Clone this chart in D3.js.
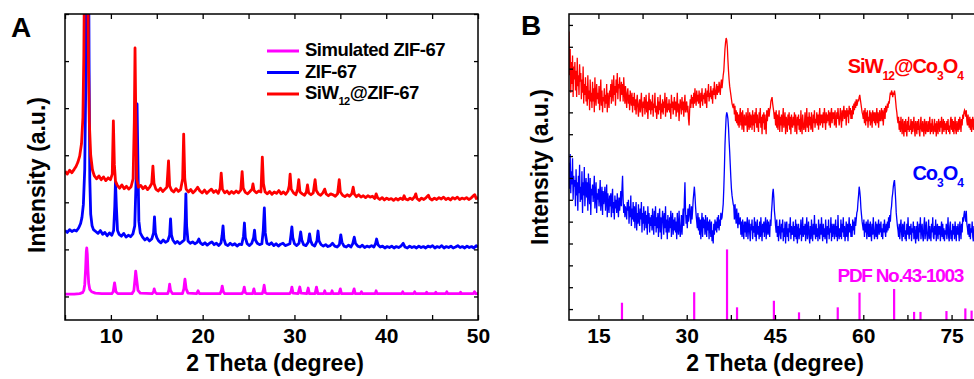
<!DOCTYPE html>
<html>
<head>
<meta charset="utf-8">
<script src="https://cdn.jsdelivr.net/npm/d3@7"></script>
<style>
  html, body { margin: 0; padding: 0; background: #fff; }
  svg { display: block; }
</style>
</head>
<body>
<svg id="fig" width="974" height="379"></svg>
<script>
// ---------- Panel A: ZIF-67 XRD patterns, [2θ, intensity (a.u.)] ----------
const simZIF = [
  [5,55],[6,55],[6.6,56],[6.9,58],[7.05,63],[7.15,75],[7.25,110],[7.32,145],[7.37,153],[7.43,140],[7.5,105],[7.58,78],[7.7,65],[7.9,60],[8.3,57],[9,56],
  [10.1,56],[10.25,60],[10.4,79],[10.55,60],[10.75,56],[12.3,56],[12.5,62],[12.62,85],[12.7,104],[12.8,88],[12.95,63],[13.2,57],
  [14.5,56],[14.65,60],[14.72,66],[14.82,59],[15,56],[16.2,56],[16.32,64],[16.4,76],[16.5,63],[16.7,56],
  [17.8,56],[17.95,66],[18.07,87],[18.2,66],[18.4,57],[19.35,56],[19.5,62],[19.65,56],
  [21.9,56],[22.05,63],[22.13,72],[22.25,60],[22.4,56],[24.3,56],[24.45,62],[24.53,70],[24.65,58],[24.8,56],
  [25.45,56],[25.58,66],[25.7,56],[26.5,56],[26.62,64],[26.7,74],[26.82,58],[27,56],
  [29.5,56],[29.65,62],[29.72,70],[29.85,57],[30.4,56],[30.58,70],[30.72,57],[31.35,56],[31.5,68],[31.62,56],
  [32.25,56],[32.4,70],[32.55,56],[33.2,56],[33.3,62],[33.4,56],[34,56],[34.1,62],[34.2,56],
  [34.85,56],[35,66],[35.12,56],[36.35,56],[36.5,66],[36.62,56],[37.2,56],[37.3,60],[37.4,56],
  [38.8,56],[38.9,62],[39,56],[41.7,56],[41.8,60],[41.9,56],[43,56],[43.1,60],[43.2,56],
  [44.3,56],[44.4,59],[44.5,56],[45.3,56],[45.4,59],[45.5,56],[46.5,56],[46.6,60],[46.7,56],
  [48,56],[48.1,59],[48.2,56],[49.5,56],[49.62,60],[49.75,56],[50,56]
];

const zif67 = [
  [5,190],[5.25,186],[5.5,192],[5.75,188],[6,191],[6.25,189],[6.5,196],[6.7,205],[6.85,218],[7.0,245],[7.15,320],[7.3,560],[7.42,900],[7.55,900],[7.62,560],[7.7,300],[7.8,225],[7.95,200],
  [8.1,192],[8.35,188],[8.6,184],[8.85,190],[9.1,182],[9.35,186],[9.6,179],[9.85,185],[10.1,180],[10.3,190],[10.42,240],[10.5,293],[10.6,240],[10.72,190],[10.9,182],
  [11.15,178],[11.4,184],[11.65,176],[11.9,180],[12.15,177],[12.4,183],[12.6,200],[12.75,300],[12.85,459],[12.95,330],[13.05,210],[13.2,185],[13.45,176],[13.7,170],[13.95,174],
  [14.2,168],[14.45,172],[14.65,185],[14.75,219],[14.85,185],[15.0,175],[15.2,168],[15.45,164],[15.7,170],[15.95,165],[16.2,168],[16.4,180],[16.5,215],[16.6,180],[16.75,170],
  [17,163],[17.25,167],[17.5,162],[17.75,166],[18.0,170],[18.1,215],[18.17,268],[18.25,200],[18.4,168],[18.65,163],[18.9,166],[19.15,162],[19.4,165],[19.58,172],[19.75,164],
  [20,160],[20.25,164],[20.5,159],[20.75,163],[21,166],[21.25,160],[21.5,163],[21.75,158],[22.0,164],[22.12,180],[22.22,200],[22.32,172],[22.5,161],[22.75,158],
  [23,163],[23.25,159],[23.5,162],[23.75,157],[24,161],[24.25,160],[24.45,178],[24.55,206],[24.65,175],[24.85,162],[25.1,158],[25.35,163],[25.55,175],[25.65,191],[25.75,170],[25.95,163],
  [26.2,160],[26.45,162],[26.6,190],[26.72,238],[26.82,185],[27,163],[27.25,160],[27.5,164],[27.75,158],[28,162],[28.25,157],[28.5,161],[28.75,163],[29,158],[29.25,160],[29.5,162],
  [29.62,180],[29.72,198],[29.82,175],[30,162],[30.25,158],[30.5,163],[30.68,187],[30.8,170],[31,160],[31.25,158],[31.5,165],[31.65,183],[31.77,168],[31.95,160],
  [32.2,157],[32.45,168],[32.57,189],[32.68,168],[32.9,160],[33.15,157],[33.4,160],[33.65,156],[33.9,158],[34.15,163],[34.4,157],[34.65,155],[34.9,160],[35.05,181],[35.18,165],
  [35.4,157],[35.65,155],[35.9,159],[36.15,155],[36.35,162],[36.52,176],[36.65,163],[36.9,157],[37.15,155],[37.4,159],[37.65,154],[37.9,157],[38.15,155],[38.4,158],[38.65,155],
  [38.85,163],[38.95,172],[39.1,160],[39.35,155],[39.6,157],[39.85,153],[40.1,156],[40.35,154],[40.6,157],[40.85,153],[41.1,156],[41.35,154],[41.6,157],[41.85,163],[42.05,155],
  [42.3,153],[42.55,157],[42.8,154],[43.05,156],[43.3,153],[43.55,157],[43.8,154],[44.05,156],[44.3,153],[44.55,157],[44.8,155],[45.05,158],[45.3,153],[45.55,156],[45.8,154],
  [46.05,158],[46.3,153],[46.55,156],[46.8,154],[47.05,157],[47.3,153],[47.55,155],[47.8,158],[48.05,154],[48.3,156],[48.55,153],[48.8,157],[49.05,154],[49.3,156],[49.55,153],[49.8,158],[50,155]
];

const siw12ZIF = [
  [5,316],[5.25,310],[5.5,318],[5.75,313],[6,320],[6.2,326],[6.4,335],[6.6,348],[6.8,375],[6.95,430],[7.05,560],[7.15,800],[7.3,900],[7.45,800],[7.55,560],[7.65,420],[7.8,350],[8.0,318],
  [8.2,306],[8.45,300],[8.7,306],[8.95,298],[9.2,304],[9.45,296],[9.7,302],[9.95,298],[10.15,310],[10.27,423],[10.38,330],[10.5,295],[10.7,286],[10.95,280],
  [11.2,287],[11.45,279],[11.7,284],[11.95,278],[12.2,283],[12.42,300],[12.55,420],[12.63,578],[12.72,420],[12.82,300],[13,282],[13.25,286],[13.5,279],[13.75,284],
  [14,277],[14.25,283],[14.45,290],[14.58,327],[14.7,290],[14.9,278],[15.15,274],[15.4,280],[15.65,273],[15.9,278],[16.1,282],[16.28,338],[16.4,285],[16.6,276],[16.85,272],
  [17.1,279],[17.35,273],[17.6,277],[17.82,300],[17.93,395],[18.05,300],[18.2,278],[18.45,272],[18.7,277],[18.95,270],[19.2,275],[19.45,282],[19.7,274],[19.95,270],
  [20.2,276],[20.45,269],[20.7,274],[20.95,278],[21.2,271],[21.45,275],[21.7,269],[21.9,280],[22.02,312],[22.15,278],[22.4,270],[22.65,274],[22.9,268],[23.15,273],
  [23.4,269],[23.65,274],[23.9,270],[24.15,276],[24.3,315],[24.42,280],[24.65,271],[24.9,268],[25.15,273],[25.38,278],[25.48,289],[25.6,275],[25.85,270],[26.1,274],
  [26.35,272],[26.5,346],[26.62,290],[26.8,272],[27.05,268],[27.3,273],[27.55,267],[27.8,272],[28.05,269],[28.3,275],[28.55,268],[28.8,272],[29.05,267],[29.3,274],
  [29.43,285],[29.53,310],[29.65,278],[29.9,270],[30.15,266],[30.35,278],[30.47,298],[30.6,272],[30.85,268],[31.1,265],[31.3,272],[31.42,287],[31.55,270],[31.8,266],
  [32.05,270],[32.25,298],[32.38,275],[32.6,268],[32.85,265],[33.1,270],[33.3,278],[33.45,268],[33.7,264],[33.95,268],[34.2,266],[34.45,263],[34.7,268],[34.88,298],[35.0,272],
  [35.25,265],[35.5,262],[35.75,266],[36.0,263],[36.25,268],[36.4,282],[36.52,268],[36.75,262],[37,266],[37.25,261],[37.5,264],[37.75,260],[38,264],[38.25,261],[38.5,263],
  [38.75,258],[38.9,268],[39.05,260],[39.3,256],[39.55,260],[39.8,255],[40.05,259],[40.3,256],[40.55,258],[40.8,254],[41.05,258],[41.3,255],[41.55,259],[41.8,256],[41.95,264],
  [42.1,257],[42.35,255],[42.6,259],[42.85,256],[43.1,262],[43.22,268],[43.35,258],[43.6,254],[43.85,259],[44.1,256],[44.35,260],[44.6,265],[44.75,258],[45,255],[45.25,259],
  [45.5,256],[45.75,260],[46,257],[46.25,261],[46.5,256],[46.75,259],[47,255],[47.25,260],[47.5,257],[47.75,261],[48,256],[48.25,259],[48.5,257],[48.75,260],[49,256],
  [49.25,259],[49.5,264],[49.65,266],[49.8,258],[50,260]
];

const legendA = [
  { parts: [["Simulated ZIF-67", false]], color: "#ff00ff" },
  { parts: [["ZIF-67", false]], color: "#0000ff" },
  { parts: [["SiW", false], ["12", true], ["@ZIF-67", false]], color: "#ff0000" }
];

// ---------- Panel B: calcined products ----------
// One row per degree, starting at 10°, readings every 0.1°; the last row is the 80° point.
const bFirstDeg = 10, bStep = 0.1;

const co3o4Rows = [
  [72,60,76,58,68,62,74,55,66,61],
  [64,52,69,57,63,50,66,58,71,54],
  [61,55,68,49,63,57,70,52,60,65],
  [56,63,50,67,58,53,65,48,60,57],
  [62,54,59,66,51,57,63,49,58,55],
  [60,52,57,64,50,56,61,48,59,53],
  [56,61,50,55,62,47,58,53,49,57],
  [52,58,47,55,60,49,54,46,57,51],
  [55,49,58,52,47,56,50,54,59,52],
  [60,66,55,49,53,47,52,50,46,54],
  [50,55,44,52,47,57,43,51,46,54],
  [45,52,42,50,54,41,49,44,53,46],
  [43,51,46,54,40,49,44,52,41,48],
  [50,42,48,39,52,44,49,40,47,43],
  [48,41,51,44,39,50,43,52,40,47],
  [42,49,38,46,51,40,47,37,45,50],
  [46,39,49,42,52,40,46,37,48,42],
  [40,47,42,50,38,45,49,39,46,41],
  [47,40,45,37,49,42,39,50,43,38],
  [42,48,39,46,51,43,55,63,50,44],
  [48,42,51,45,50,53,47,44,52,46],
  [50,55,58,61,57,52,48,45,42,49],
  [41,47,39,46,37,44,49,38,47,42],
  [46,39,48,42,38,47,41,45,37,46],
  [43,38,45,36,41,35,44,39,46,41],
  [45,40,47,42,48,41,46,43,49,46],
  [47,50,53,60,69,80,87,93,95,94],
  [92,88,82,77,71,65,60,57,55,53],
  [52,46,53,48,44,51,46,42,49,44],
  [44,47,39,45,38,46,41,37,45,40],
  [45,38,43,47,37,42,46,40,36,44],
  [41,46,37,43,40,47,38,45,36,42],
  [46,39,43,37,45,38,47,41,36,44],
  [40,45,38,43,47,37,42,46,39,45],
  [41,38,46,43,49,53,58,60,56,50],
  [47,43,40,46,38,43,36,42,46,39],
  [37,44,40,46,36,42,38,45,35,43],
  [45,38,42,36,44,40,47,37,43,39],
  [40,45,36,43,38,46,37,44,35,41],
  [44,37,42,39,46,36,41,47,38,43],
  [39,44,36,42,47,37,41,45,38,35],
  [43,37,46,40,36,44,39,48,40,37],
  [44,38,42,36,46,40,37,44,39,47],
  [40,36,44,38,42,37,46,40,35,43],
  [39,46,37,42,40,47,36,44,38,42],
  [44,37,41,46,38,43,36,48,40,37],
  [42,38,46,37,44,40,47,38,43,36],
  [40,45,38,44,36,42,47,40,44,38],
  [43,38,46,41,45,39,47,43,46,49],
  [50,54,57,61,59,56,51,48,45,43],
  [41,46,38,44,40,45,37,42,46,38],
  [44,38,45,40,36,44,39,47,41,37],
  [40,45,38,44,37,42,46,39,44,40],
  [45,38,42,37,44,40,46,41,38,44],
  [40,45,41,47,42,48,45,50,52,56],
  [58,61,63,64,60,55,49,46,43,41],
  [38,44,37,42,46,40,36,44,38,42],
  [45,37,41,36,44,39,47,40,37,43],
  [39,44,36,42,40,45,37,43,39,35],
  [43,37,45,39,36,44,40,47,37,41],
  [44,38,36,43,47,37,41,45,39,36],
  [40,46,37,43,39,36,44,40,47,38],
  [37,43,39,46,36,41,44,37,43,39],
  [43,36,41,45,38,44,37,42,36,41],
  [39,44,37,41,47,38,36,43,45,37],
  [41,36,44,39,43,37,45,40,36,43],
  [39,44,40,36,45,42,37,44,40,47],
  [45,48,50,47,45,50,44,42,39,44],
  [38,44,37,42,40,45,38,36,43,40],
  [37,43,45,39,44,40,36,43,39,44],
  [41]
];

const siw12Co3o4Rows = [
  [132,112,124,104,118,108,121,102,116,110],
  [118,105,114,102,120,107,112,103,117,109],
  [113,101,110,104,116,99,108,103,111,100],
  [107,98,112,101,105,96,110,100,104,97],
  [109,100,106,95,111,102,98,108,101,104],
  [99,107,96,103,110,98,105,95,102,100],
  [106,97,103,99,108,95,104,101,97,105],
  [102,108,99,110,104,100,112,103,107,98],
  [110,104,113,101,108,106,111,100,105,109],
  [103,108,100,111,105,99,107,102,97,104],
  [106,99,103,96,105,101,98,104,95,102],
  [98,104,96,101,94,100,103,97,93,99],
  [101,95,99,104,96,93,100,97,102,94],
  [99,103,95,100,92,98,104,96,101,94],
  [100,96,103,93,99,97,104,95,98,92],
  [97,102,94,100,96,103,92,99,95,101],
  [94,100,97,104,93,98,102,95,99,96],
  [101,95,99,92,103,97,100,94,98,102],
  [96,100,93,98,104,95,99,91,97,101],
  [98,94,102,96,100,93,99,103,95,98],
  [100,95,98,92,89,96,101,97,103,99],
  [102,97,104,99,106,101,98,105,100,103],
  [99,105,101,97,104,100,106,98,103,101],
  [104,99,106,101,97,105,102,108,100,104],
  [102,107,101,105,99,106,103,109,104,101],
  [105,108,103,107,104,109,106,103,108,110],
  [106,109,112,114,119,124,127,129,128,125],
  [119,114,110,107,105,103,101,99,98,97],
  [99,94,98,91,96,90,95,89,94,88],
  [93,97,89,95,87,96,91,86,94,90],
  [89,95,91,86,97,90,87,95,88,94],
  [92,87,96,89,94,86,95,90,97,88],
  [94,89,86,95,90,97,88,93,85,94],
  [90,95,87,94,89,85,96,91,95,97],
  [93,96,97,100,101,102,99,97,95,92],
  [95,89,96,88,94,87,92,96,86,93],
  [89,94,86,92,97,88,91,95,85,93],
  [91,86,94,89,95,87,93,85,94,89],
  [88,93,89,95,86,94,90,85,93,89],
  [94,87,92,86,96,89,85,94,90,87],
  [89,95,86,91,97,88,93,86,95,89],
  [93,87,95,89,86,94,90,96,88,92],
  [90,95,89,94,87,93,97,89,94,90],
  [94,88,95,90,97,92,87,95,90,94],
  [91,96,89,95,88,94,97,90,95,92],
  [95,89,96,91,88,95,92,97,93,89],
  [92,97,93,88,96,91,95,98,92,96],
  [95,89,97,93,96,90,98,94,97,92],
  [96,92,98,94,99,96,100,97,101,98],
  [99,101,100,102,103,101,99,97,95,94],
  [92,96,90,97,89,95,91,96,88,93],
  [91,96,89,95,93,88,96,91,95,90],
  [95,89,93,97,90,95,88,93,96,91],
  [93,97,91,96,89,94,97,92,98,95],
  [96,99,97,100,99,102,104,103,105,104],
  [102,104,103,105,103,100,97,95,92,90],
  [93,87,91,86,93,89,85,92,88,84],
  [91,86,92,87,84,91,87,93,86,89],
  [87,92,85,91,86,89,93,87,84,91],
  [89,85,91,87,92,86,84,90,93,87],
  [86,91,88,84,92,89,85,91,87,86],
  [91,86,89,93,85,90,86,92,88,85],
  [88,92,86,90,84,91,88,85,92,89],
  [86,91,88,93,85,89,92,86,91,87],
  [90,85,91,87,92,86,89,85,91,93],
  [87,92,86,91,85,89,93,87,85,91],
  [89,86,92,87,93,90,86,92,89,94],
  [92,95,96,95,93,96,91,89,94,90],
  [88,93,87,92,86,91,93,87,92,88],
  [91,86,92,89,93,87,90,94,88,92],
  [90]
];

// Reference pattern PDF No.43-1003 (Co3O4): line positions and relative heights
const pdfTheta  = [19.0, 31.27, 36.85, 38.55, 44.81, 49.08, 55.66, 59.36, 65.24, 68.63, 69.72, 74.13, 77.34, 78.4];
const pdfHeight = [7.9, 12.7, 32.3, 5.8, 8.8, 3.5, 5.8, 12.5, 14.2, 3.7, 3.7, 4.1, 5.3, 4.3];

// Axis tick values
const xTicksA = [5,10,15,20,25,30,35,40,45,50];
const xLabelsA = [10,20,30,40,50];
const yTicksA = [50,150,250,350,450,550,650];
const xTicksB = [15,22.5,30,37.5,45,52.5,60,67.5,75];
const xLabelsB = [15,30,45,60,75];
const yTicksB = [5,15,25,35,45,55,65,75,85,95,105,115,125,135];

// ---------- drawing ----------
const FONT = '"Liberation Sans", Arial, Helvetica, sans-serif';
const RED = "#ff0000", BLUE = "#0000ff", MAGENTA = "#ff00ff";
const svg = d3.select("#fig").attr("font-family", FONT).attr("font-weight", "bold");

const xA = d3.scaleLinear().domain([5, 50]).range([65, 478]);
const yA = d3.scaleLinear().domain([0, 650]).range([320, 14]);
const xB = d3.scaleLinear().domain([10, 80]).range([569, 981]);
const yB = d3.scaleLinear().domain([0, 140]).range([320, 14]);

// turn per-degree rows into [2θ, intensity] points
function rowsToPoints(rows) {
  const pts = [];
  rows.forEach((row, r) => row.forEach((v, j) => pts.push([bFirstDeg + r + j * bStep, v])));
  return pts;
}

const defs = svg.append("defs");
function clipFor(id, x, y) {
  const [x0, x1] = x.range(), [y0, y1] = y.range();
  defs.append("clipPath").attr("id", id).append("rect")
    .attr("x", x0).attr("y", y1).attr("width", x1 - x0).attr("height", y0 - y1);
  return `url(#${id})`;
}

function styleAxis(g) {
  g.select(".domain").remove();
  g.attr("font-family", FONT).attr("font-size", 21).attr("font-weight", "bold");
  g.selectAll(".tick line").attr("stroke", "#000").attr("stroke-width", 1.3);
  g.selectAll(".tick text").attr("fill", "#000");
}

function drawFrame(x, y, xTicks, xLabels, yTicks) {
  const [x0, x1] = x.range(), [y0, y1] = y.range();
  const fmt = d => xLabels.includes(d) ? d : "";
  svg.append("g").attr("transform", `translate(0,${y0})`)
    .call(d3.axisBottom(x).tickValues(xTicks).tickSizeInner(-5).tickSizeOuter(0).tickPadding(8).tickFormat(fmt))
    .call(styleAxis);
  svg.append("g").attr("transform", `translate(0,${y1})`)
    .call(d3.axisTop(x).tickValues(xTicks).tickSizeInner(-5).tickSizeOuter(0).tickFormat(""))
    .call(styleAxis);
  svg.append("g").attr("transform", `translate(${x0},0)`)
    .call(d3.axisLeft(y).tickValues(yTicks).tickSizeInner(-4).tickSizeOuter(0).tickFormat(""))
    .call(styleAxis);
  svg.append("g").attr("transform", `translate(${x1},0)`)
    .call(d3.axisRight(y).tickValues(yTicks).tickSizeInner(-4).tickSizeOuter(0).tickFormat(""))
    .call(styleAxis);
  svg.append("rect").attr("x", x0).attr("y", y1).attr("width", x1 - x0).attr("height", y0 - y1)
    .attr("fill", "none").attr("stroke", "#000").attr("stroke-width", 1.5);
}

// text with subscripts; parts = [[string, isSub], ...]
function richText(x, y, parts, opt) {
  const t = svg.append("text").attr("x", x).attr("y", y)
    .attr("font-size", opt.size).attr("fill", opt.color)
    .attr("text-anchor", opt.anchor || "start")
    .attr("letter-spacing", opt.spacing || 0);
  let shift = 0;
  parts.forEach(([s, sub]) => {
    const target = sub ? opt.subDy : 0;
    const ts = t.append("tspan").text(s).attr("dy", target - shift);
    if (sub) ts.attr("font-size", opt.subSize);
    shift = target;
  });
  return t;
}

// ----- Panel A -----
const clipA = clipFor("clipA", xA, yA);
const lineA = d3.line().x(d => xA(d[0])).y(d => yA(d[1]));
const plotA = svg.append("g").attr("clip-path", clipA);
[[simZIF, MAGENTA], [zif67, BLUE], [siw12ZIF, RED]].forEach(([data, c]) => {
  plotA.append("path").datum(data).attr("d", lineA)
    .attr("fill", "none").attr("stroke", c).attr("stroke-width", 2.8)
    .attr("stroke-linejoin", "round");
});
drawFrame(xA, yA, xTicksA, xLabelsA, yTicksA);

const legG = svg.append("g");
legendA.forEach((e, i) => {
  const by = 56 + i * 21.5;
  legG.append("line").attr("x1", 267).attr("x2", 299).attr("y1", by - 5).attr("y2", by - 5)
    .attr("stroke", e.color).attr("stroke-width", 3);
  richText(305, by, e.parts, { size: 18.5, subSize: 11, subDy: 6, color: "#000", spacing: -0.5 });
});

svg.append("text").attr("x", 275).attr("y", 371).attr("text-anchor", "middle")
  .attr("font-size", 23).text("2 Theta (degree)");
svg.append("text").attr("transform", "translate(45,175) rotate(-90)").attr("text-anchor", "middle")
  .attr("font-size", 23).text("Intensity (a.u.)");
svg.append("text").attr("x", 11).attr("y", 37).attr("font-size", 28).text("A");

// ----- Panel B -----
const clipB = clipFor("clipB", xB, yB);
const lineB = d3.line().x(d => xB(d[0])).y(d => yB(d[1]));
const plotB = svg.append("g").attr("clip-path", clipB);
plotB.append("path").datum(rowsToPoints(siw12Co3o4Rows)).attr("d", lineB)
  .attr("fill", "none").attr("stroke", RED).attr("stroke-width", 1.3);
plotB.append("path").datum(rowsToPoints(co3o4Rows)).attr("d", lineB)
  .attr("fill", "none").attr("stroke", BLUE).attr("stroke-width", 1.3);
plotB.selectAll("line.pdf").data(pdfTheta).join("line").attr("class", "pdf")
  .attr("x1", d => xB(d)).attr("x2", d => xB(d))
  .attr("y1", yB(0)).attr("y2", (d, i) => yB(pdfHeight[i]))
  .attr("stroke", MAGENTA).attr("stroke-width", 2.2);
drawFrame(xB, yB, xTicksB, xLabelsB, yTicksB);

richText(963, 73, [["SiW", false], ["12", true], ["@Co", false], ["3", true], ["O", false], ["4", true]],
  { size: 20, subSize: 12, subDy: 7, color: RED, anchor: "end", spacing: -1 });
richText(963, 180, [["Co", false], ["3", true], ["O", false], ["4", true]],
  { size: 20, subSize: 12, subDy: 7, color: BLUE, anchor: "end", spacing: -1 });
svg.append("text").attr("x", 963).attr("y", 282).attr("text-anchor", "end")
  .attr("font-size", 19).attr("letter-spacing", -1.3).attr("fill", MAGENTA).text("PDF No.43-1003");

svg.append("text").attr("x", 775).attr("y", 371).attr("text-anchor", "middle")
  .attr("font-size", 23).text("2 Theta (degree)");
svg.append("text").attr("transform", "translate(548,167) rotate(-90)").attr("text-anchor", "middle")
  .attr("font-size", 23).text("Intensity (a.u.)");
svg.append("text").attr("x", 521).attr("y", 35).attr("font-size", 28).text("B");
</script>
</body>
</html>
